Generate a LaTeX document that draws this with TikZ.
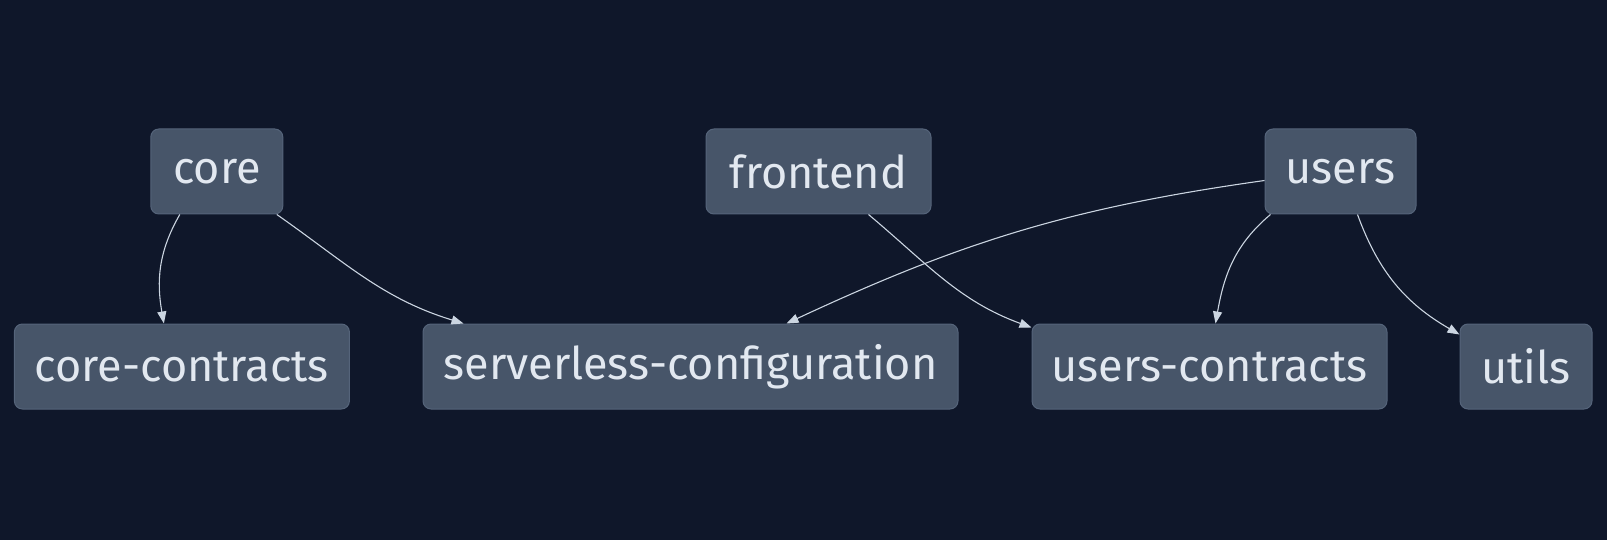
\documentclass[tikz,border=0pt]{standalone}
\usepackage{fontspec}
\setmainfont{Fira Sans}
\usetikzlibrary{arrows.meta}
\definecolor{bg}{HTML}{0F172A}
\definecolor{boxfill}{HTML}{475569}
\definecolor{boxline}{HTML}{55647A}
\definecolor{txt}{HTML}{E2E8F0}
\definecolor{edge}{HTML}{CBD5E1}
\tikzset{
  pkg/.style={draw=boxline, line width=1pt, fill=boxfill, rounded corners=8pt,
    minimum height=85pt, inner sep=0pt, text=txt,
    font=\fontsize{45}{54}\selectfont},
  dep/.style={draw=edge, line width=1.1pt, -{Triangle[length=12pt,width=9pt]}}
}
\begin{document}
\begin{tikzpicture}[x=1pt,y=-1pt]
\fill[bg] (0,0) rectangle (1607,540);
\useasboundingbox (0,0) rectangle (1607,540);
\node[pkg, minimum width=132pt] (core) at (216.8,171.5) {core};
\node[pkg, minimum width=225pt] (fe) at (818.5,171.5) {frontend};
\node[pkg, minimum width=151pt] (users) at (1340.5,171.5) {users};
\node[pkg, minimum width=335pt] (cc) at (181.9,366.5) {core-contracts};
\node[pkg, minimum width=535pt] (sc) at (690.5,366.5) {serverless-configuration};
\node[pkg, minimum width=355pt] (uc) at (1209.5,366.5) {users-contracts};
\node[pkg, minimum width=132pt] (ut) at (1526,366.5) {utils};
\draw[dep] ([xshift=-37pt]core.south) to[out=-120,in=100] ([xshift=-18pt]cc.north);
\draw[dep] ([xshift=60pt]core.south) to[out=-35,in=163] ([xshift=-227pt]sc.north);
\draw[dep] ([xshift=50pt]fe.south) to[out=-40,in=160] ([yshift=-4pt]uc.north west);
\draw[dep] ([yshift=-9pt]users.west) to[out=188,in=25] ([xshift=96pt]sc.north);
\draw[dep] ([xshift=-70pt]users.south) to[out=-140,in=80] ([xshift=6pt]uc.north);
\draw[dep] ([xshift=17pt]users.south) to[out=-70,in=150] ([yshift=-11pt]ut.north west);
\end{tikzpicture}
\end{document}
